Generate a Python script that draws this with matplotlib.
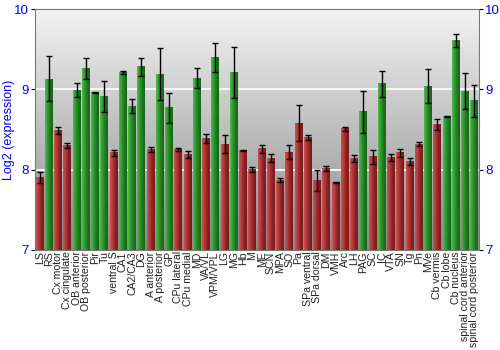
import numpy as np
import matplotlib
matplotlib.use("Agg")
from matplotlib import pyplot as plt
from matplotlib.colors import LinearSegmentedColormap

plt.rcParams['font.family'] = ['Liberation Sans', 'DejaVu Sans']

regions = ["LS", "RS", "Cx motor", "Cx cingulate", "OB anterior", "OB posterior",
           "Pir", "Tu", "ventral S", "CA1", "CA2/CA3", "DG", "A anterior",
           "A posterior", "GP", "CPu lateral", "CPu medial", "MD", "VA/VL",
           "VPM/VPL", "LG", "MG", "Hb", "M", "ME", "SCN", "MPA", "SO", "Pa",
           "SPa ventral", "SPa dorsal", "DM", "VMH", "Arc", "LH", "PAG", "SC",
           "IC", "VTA", "SN", "Tg", "Pn", "MVe", "Cb vermis", "Cb lobe",
           "Cb nucleus", "spinal cord anterior", "spinal cord posterior"]
expression = [7.90, 9.13, 8.49, 8.30, 8.99, 9.26, 8.96, 8.91, 8.21, 9.21, 8.79,
              9.28, 8.25, 9.19, 8.77, 8.25, 8.19, 9.14, 8.39, 9.40, 8.32, 9.21,
              8.24, 8.00, 8.26, 8.14, 7.87, 8.22, 8.58, 8.40, 7.87, 8.01, 7.84,
              8.51, 8.14, 8.72, 8.16, 9.07, 8.15, 8.21, 8.10, 8.32, 9.04, 8.56,
              8.66, 9.61, 8.98, 8.86]
errors = [0.07, 0.28, 0.04, 0.03, 0.09, 0.13, 0.01, 0.19, 0.04, 0.02, 0.09,
          0.11, 0.03, 0.32, 0.19, 0.02, 0.04, 0.12, 0.06, 0.18, 0.11, 0.32,
          0.005, 0.03, 0.05, 0.05, 0.03, 0.09, 0.22, 0.035, 0.13, 0.03, 0.006,
          0.025, 0.045, 0.26, 0.09, 0.16, 0.04, 0.05, 0.04, 0.025, 0.21, 0.065,
          0.005, 0.08, 0.22, 0.20]
# 'h' = high expression group (green), 'l' = low (red)
group = ['l', 'h', 'l', 'l', 'h', 'h', 'h', 'h', 'l', 'h', 'h', 'h', 'l', 'h',
         'h', 'l', 'l', 'h', 'l', 'h', 'l', 'h', 'l', 'l', 'l', 'l', 'l', 'l',
         'l', 'l', 'l', 'l', 'l', 'l', 'l', 'h', 'l', 'h', 'l', 'l', 'l', 'l',
         'h', 'l', 'h', 'h', 'h', 'h']

ymin, ymax = 7, 10

fig = plt.figure(figsize=(5, 3.5), dpi=100)
ax = fig.add_axes([0.07, 0.286, 0.888, 0.688])

n = len(regions)
x = np.arange(n)
ax.set_xlim(-0.5, n - 0.5)
ax.set_ylim(ymin, ymax)

# grey vertical gradient behind the bars
bg = LinearSegmentedColormap.from_list("bg", ["#8a8a8a", "#f3f3f3"])
grad = np.linspace(0, 1, 256).reshape(-1, 1)
ax.imshow(grad, cmap=bg, aspect='auto', origin='lower',
          extent=[-0.5, n - 0.5, ymin, ymax], zorder=0)

for yv in (8, 9):
    ax.axhline(yv, color='white', lw=1.2, zorder=1)

red_cm = LinearSegmentedColormap.from_list("r", ["#c95454", "#b33a3a", "#8e2222", "#7a1a1a"])
green_cm = LinearSegmentedColormap.from_list("g", ["#55b855", "#2f9a2f", "#1f7a1f", "#166616"])
hgrad = np.linspace(0, 1, 64).reshape(1, -1)

width = 0.86
for xi, val, g in zip(x, expression, group):
    cm = green_cm if g == 'h' else red_cm
    ax.imshow(hgrad, cmap=cm, aspect='auto',
              extent=[xi - width / 2, xi + width / 2, ymin, val], zorder=2)

ax.errorbar(x, expression, yerr=errors, fmt='none', ecolor='black',
            elinewidth=1, capsize=2, capthick=1, zorder=3)

ax.set_xticks(x)
ax.set_xticklabels(regions, rotation=90, fontsize=7.6, color='#222222')
ax.tick_params(axis='x', length=0, pad=1)

ax.set_yticks([7, 8, 9, 10])
ax.tick_params(axis='y', labelsize=9.5, labelcolor='blue', length=3,
               right=True, labelright=True, direction='out', pad=1.5)
ax.set_ylabel("Log2 (expression)", color='blue', fontsize=9)
ax.yaxis.set_label_coords(-0.046, 0.5)

for s in ax.spines.values():
    s.set_color('#777777')

fig.savefig("out.png", dpi=100)
